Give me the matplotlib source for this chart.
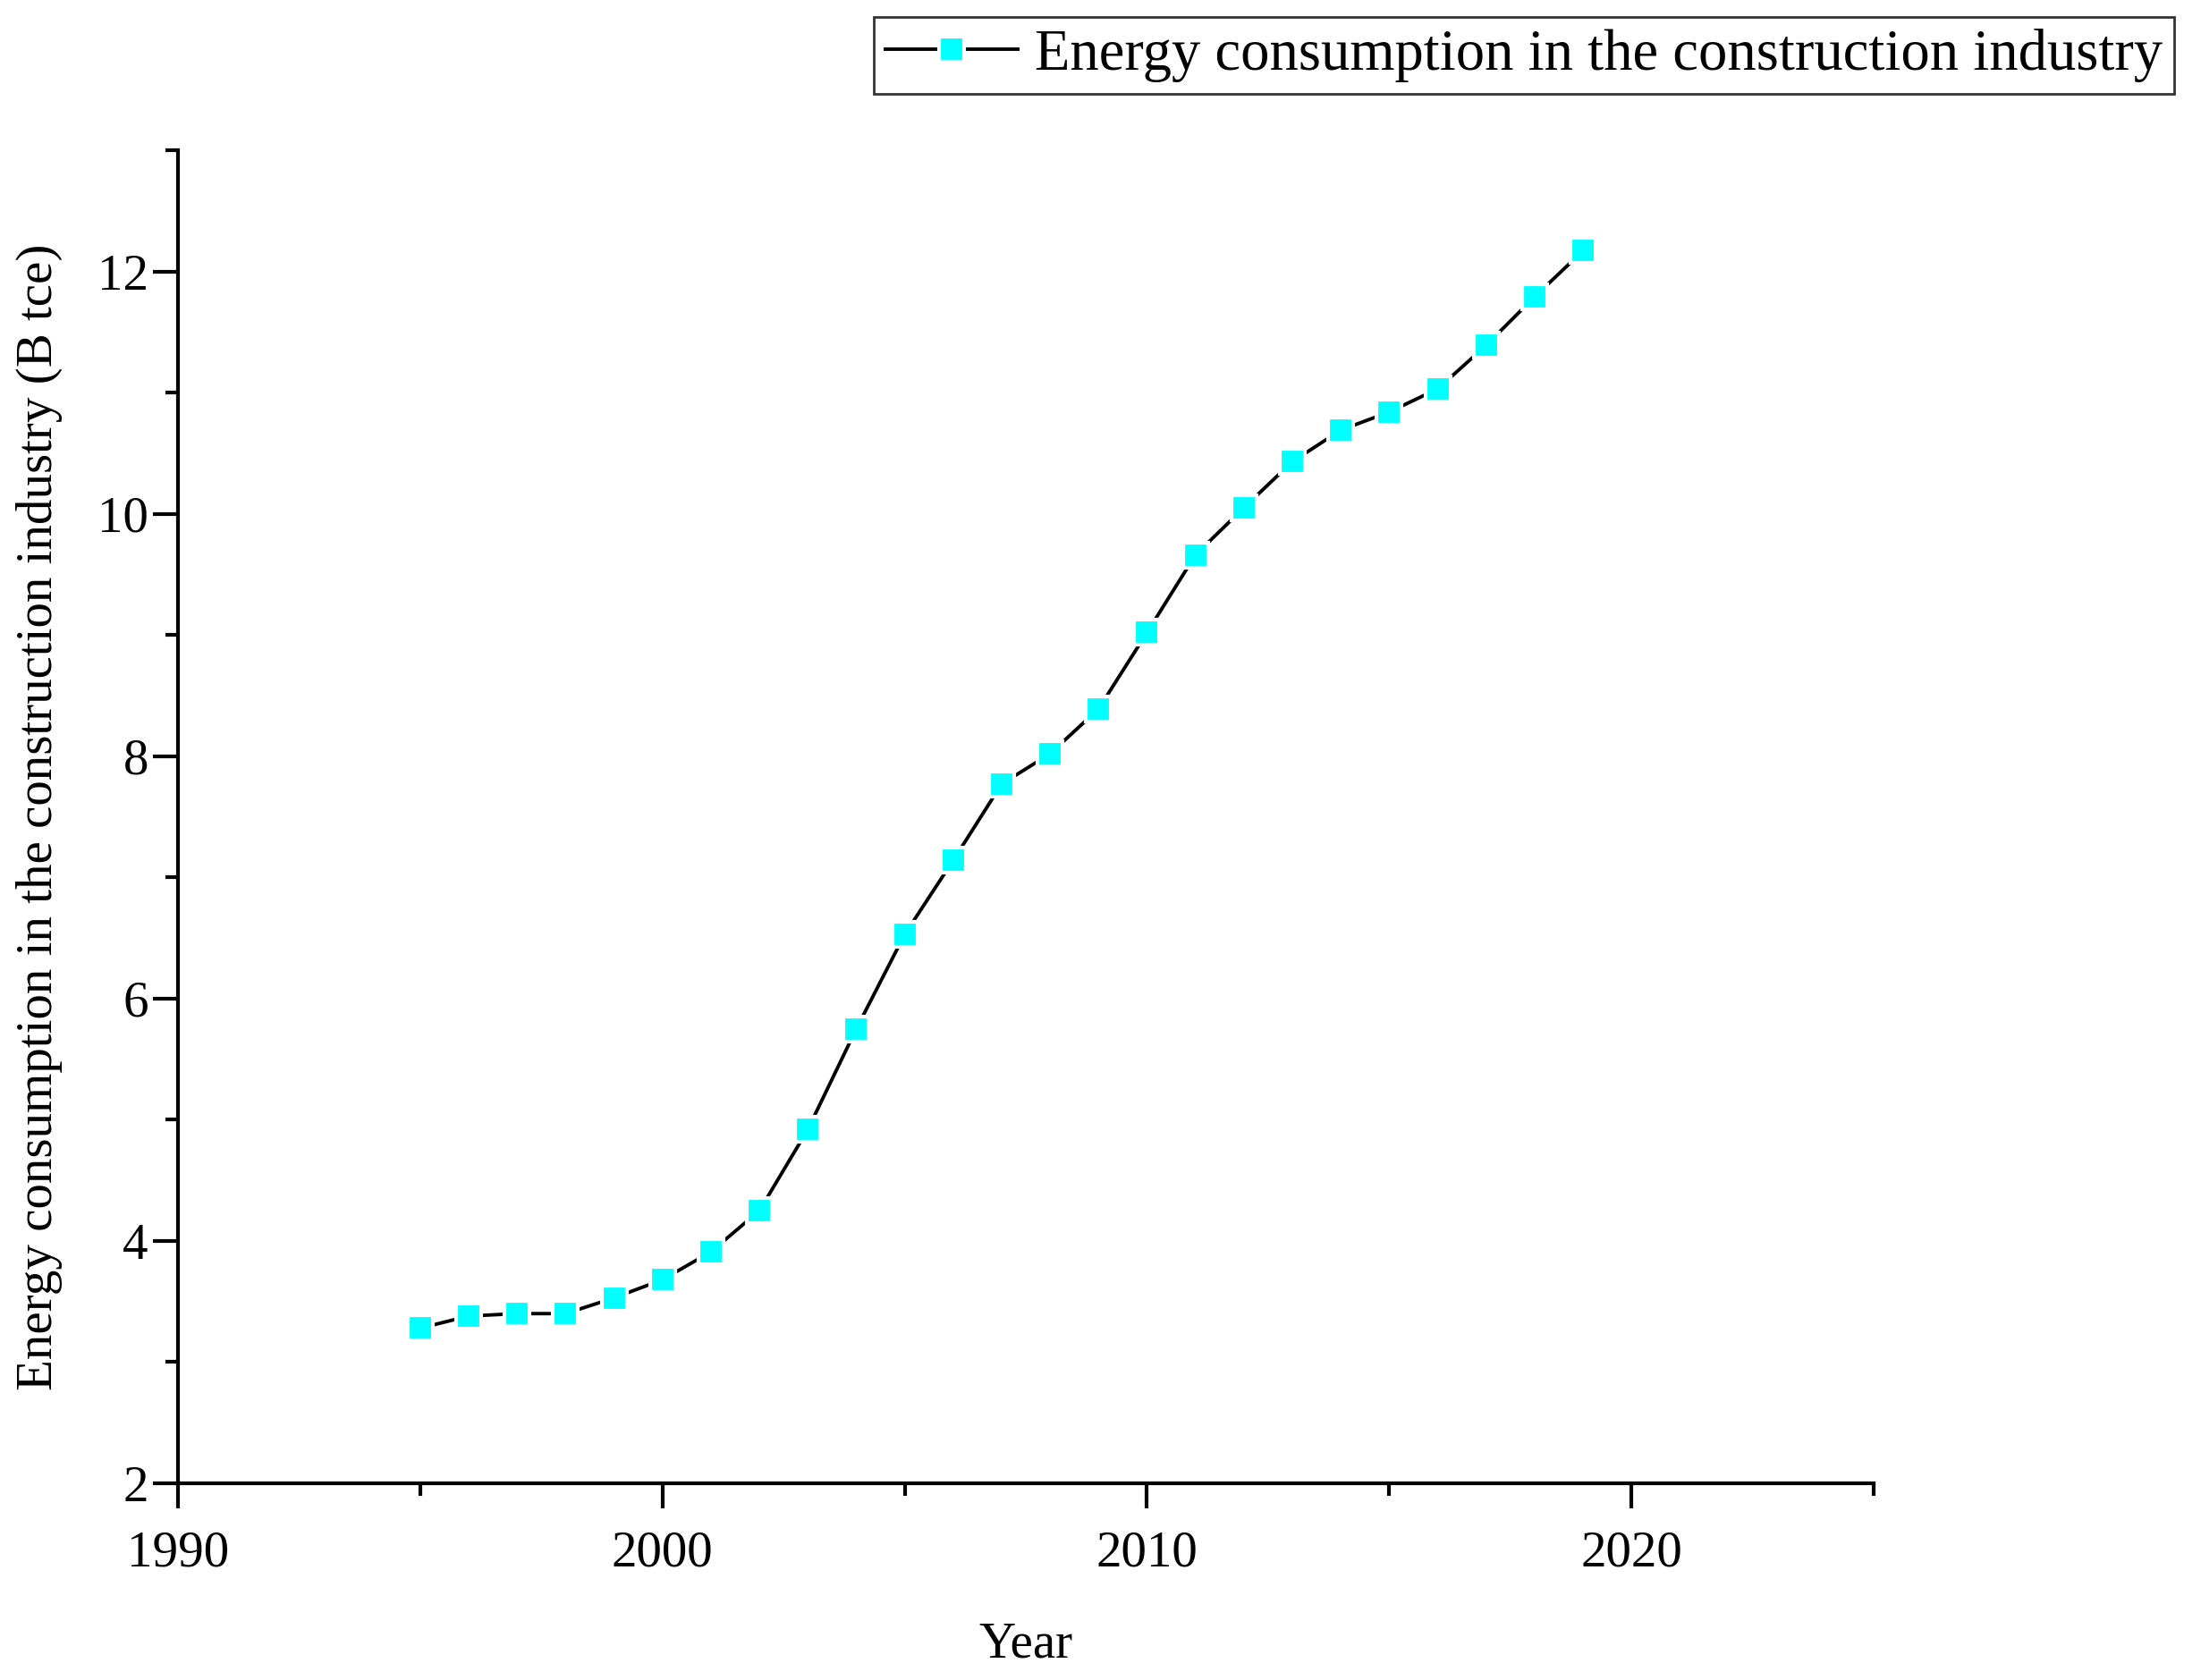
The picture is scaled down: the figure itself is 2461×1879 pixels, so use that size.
import matplotlib
matplotlib.use('Agg')
import matplotlib.pyplot as plt
from matplotlib.ticker import MultipleLocator

years = [1995, 1996, 1997, 1998, 1999, 2000, 2001, 2002, 2003, 2004,
         2005, 2006, 2007, 2008, 2009, 2010, 2011, 2012, 2013, 2014,
         2015, 2016, 2017, 2018, 2019]
energy = [3.28, 3.38, 3.40, 3.40, 3.53, 3.68, 3.91, 4.25, 4.92, 5.75,
          6.53, 7.14, 7.77, 8.02, 8.39, 9.02, 9.66, 10.05, 10.43, 10.69,
          10.84, 11.03, 11.39, 11.79, 12.17]

plt.rcParams['font.family'] = ['Liberation Serif', 'DejaVu Serif']

fig = plt.figure(figsize=(24.61, 18.79), dpi=100)
ax = fig.add_axes([0.0809, 0.1171, 0.7704, 0.7935])

ax.plot(years, energy, color='black', linewidth=2.8, marker='s',
        markersize=20, markerfacecolor='#00ffff', markeredgecolor='white',
        markeredgewidth=3, label='Energy consumption in the construction industry')

ax.set_xlim(1990, 2025)
ax.set_ylim(2, 13)
ax.xaxis.set_major_locator(MultipleLocator(10))
ax.xaxis.set_minor_locator(MultipleLocator(5))
ax.yaxis.set_major_locator(MultipleLocator(2))
ax.yaxis.set_minor_locator(MultipleLocator(1))

for side in ['top', 'right']:
    ax.spines[side].set_visible(False)
for side in ['left', 'bottom']:
    ax.spines[side].set_linewidth(3)

ax.tick_params(which='major', direction='out', length=20, width=3, labelsize=41)
ax.tick_params(which='minor', direction='out', length=10, width=3)
ax.tick_params(axis='x', which='major', pad=18)
ax.tick_params(axis='y', which='major', pad=4)

ax.set_xlabel('Year', fontsize=41, labelpad=36)
ax.set_ylabel('Energy consumption in the construction industry (B tce)', fontsize=41, labelpad=28)

leg = fig.legend(loc='upper right', bbox_to_anchor=(0.988, 0.99), fontsize=46.5,
                 frameon=True, fancybox=False, edgecolor='black', handlelength=2.3,
                 handletextpad=0.3, borderpad=0.2, borderaxespad=0)
leg.get_frame().set_linewidth(2)

fig.savefig('out.png', dpi=100, facecolor='white')
